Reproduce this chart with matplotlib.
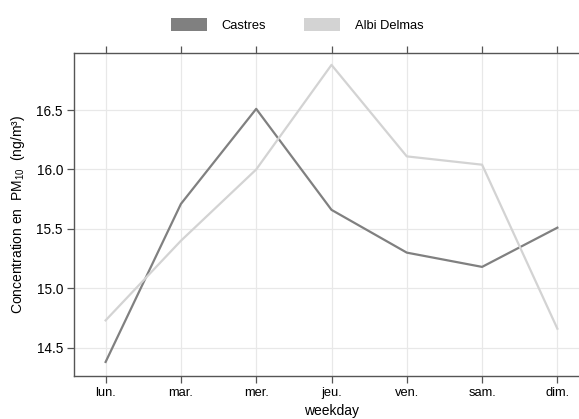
import matplotlib
matplotlib.use("Agg")
import matplotlib.pyplot as plt
from matplotlib.patches import Patch

plt.rcParams["font.family"] = ["Liberation Sans", "DejaVu Sans"]
plt.rcParams["mathtext.default"] = "regular"

weekdays = ["lun.", "mar.", "mer.", "jeu.", "ven.", "sam.", "dim."]
castres = [14.38, 15.71, 16.51, 15.66, 15.30, 15.18, 15.51]
albi_delmas = [14.73, 15.40, 16.00, 16.88, 16.11, 16.04, 14.66]
series_names = ["Castres", "Albi Delmas"]
series_colors = ["#808080", "#d3d3d3"]
y_ticks = [14.5, 15.0, 15.5, 16.0, 16.5]

W, H = 579, 419
fig = plt.figure(figsize=(W / 100, H / 100), dpi=100)
left, right, top, bottom = 74, 589, 53, 375.5
ax = fig.add_axes([left / W, 1 - bottom / H, (right - left) / W, (bottom - top) / H])

x = list(range(len(weekdays)))
for vals, name, col in zip([castres, albi_delmas], series_names, series_colors):
    ax.plot(x, vals, color=col, lw=1.6, label=name, zorder=3)

ax.set_xlim(-0.42, 6.42)
ax.set_ylim(14.266, 16.98)
ax.set_xticks(x)
ax.set_xticklabels(weekdays)
ax.set_yticks(y_ticks)
ax.set_yticklabels([f"{v:.1f}" for v in y_ticks])

ax.grid(True, color="#e8e8e8", lw=0.9, zorder=0)
ax.set_axisbelow(True)

for side in ["left", "top", "bottom"]:
    ax.spines[side].set_color("#555555")
    ax.spines[side].set_linewidth(1.0)
ax.spines["right"].set_visible(False)

ax.tick_params(axis="x", which="both", top=True, bottom=True, direction="out",
               length=5, width=0.9, color="#555555", labelsize=9.3, pad=3.5)
ax.tick_params(axis="y", which="both", left=True, right=False, direction="out",
               length=5, width=0.9, color="#555555", labelsize=9.8, pad=3)

ax.set_xlabel("weekday", fontsize=10, labelpad=3.5)
ax.set_ylabel("Concentration en  PM$_{10}$  (ng/m³)", fontsize=10, labelpad=7)

handles = [Patch(facecolor=c, edgecolor="none") for c in series_colors]
fig.legend(handles, series_names, loc="center", bbox_to_anchor=(297 / W, 1 - 25 / H),
           ncol=2, frameon=False, fontsize=9.3, handlelength=2.8, handleheight=1.2,
           handletextpad=1.1, columnspacing=3.0)

fig.savefig("out.png", dpi=100)
